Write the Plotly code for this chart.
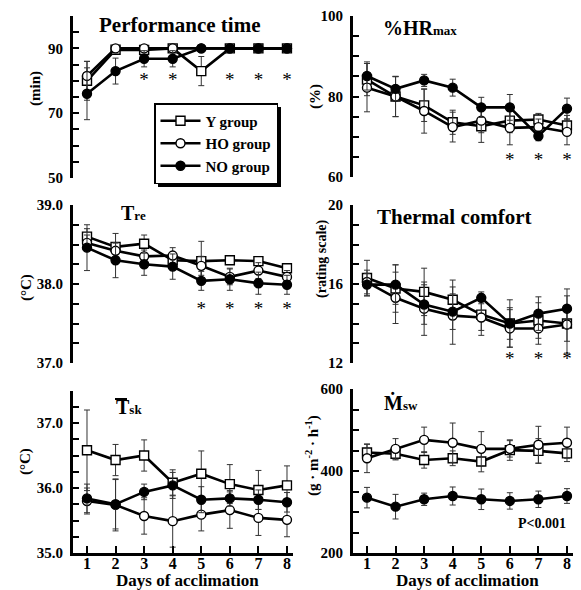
import plotly.graph_objects as go

W, H = 581, 590
FONT = "Liberation Serif, Times New Roman, serif"

days = [1, 2, 3, 4, 5, 6, 7, 8]
group_names = ["Y group", "HO group", "NO group"]

# Performance time (min)
perf_Y = [80, 89.6, 89.5, 90, 83, 90, 90, 90]
perf_HO = [81.5, 90, 90, 90, 90, 90, 90, 90]
perf_NO = [76, 83, 86.8, 86.8, 90, 90, 90, 90]
perf_Y_sd = [6, 0.5, 0.5, 0.3, 4.5, 0, 0, 0]
perf_HO_sd = [4.5, 0, 0, 0, 0, 0, 0, 0]
perf_NO_sd = [8, 4, 2.5, 2.5, 0, 0, 0, 0]
perf_star_days = [3, 4, 6, 7, 8]
perf_star_y = 80

# %HRmax
hr_Y = [84.2, 80, 77.8, 73.6, 72.6, 74, 74.3, 72.8]
hr_HO = [82.2, 80, 76.4, 72.4, 74, 72.2, 72.4, 71.2]
hr_NO = [85.1, 81.9, 84, 82.2, 77.3, 77.3, 70.2, 77]
hr_Y_sd = [4, 5, 4, 3, 4, 3, 1.5, 2.5]
hr_HO_sd = [6, 5, 5.5, 3.7, 3, 4.2, 2, 3.2]
hr_NO_sd = [3.5, 3, 1.5, 2.1, 2.5, 3.2, 1.2, 2.6]
hr_star_days = [6, 7, 8]
hr_star_y = 64

# Tre (deg C)
tre_Y = [38.60, 38.47, 38.51, 38.30, 38.29, 38.30, 38.29, 38.20]
tre_HO = [38.52, 38.42, 38.35, 38.36, 38.23, 38.09, 38.17, 38.09]
tre_NO = [38.46, 38.30, 38.25, 38.22, 38.04, 38.06, 38.01, 37.99]
tre_Y_sd = [0.1, 0.17, 0.11, 0.1, 0.25, 0.05, 0.05, 0.04]
tre_HO_sd = [0.1, 0.1, 0.08, 0.1, 0.12, 0.1, 0.1, 0.08]
tre_NO_sd = [0.29, 0.22, 0.14, 0.16, 0.12, 0.14, 0.14, 0.12]
tre_star_days = [5, 6, 7, 8]
tre_star_y = 37.67

# Thermal comfort (rating scale)
tc_Y = [16.3, 15.77, 15.6, 15.2, 14.45, 14.0, 14.15, 14.0]
tc_HO = [16.1, 15.3, 14.75, 14.4, 14.3, 13.75, 13.75, 13.95]
tc_NO = [15.97, 15.97, 14.96, 14.6, 15.3, 14.0, 14.5, 14.75]
tc_Y_sd = [0.9, 1.2, 1.2, 1.0, 0.8, 1.2, 0.9, 0.9]
tc_HO_sd = [0.6, 1.3, 1.35, 1.45, 0.9, 0.95, 0.8, 1.45]
tc_NO_sd = [0.57, 1.0, 1.0, 0.9, 0.3, 0.8, 0.85, 1.0]
tc_star_days = [6, 7, 8]
tc_star_y = 12.15

# Mean skin temperature (deg C)
tsk_Y = [36.58, 36.43, 36.5, 36.08, 36.22, 36.06, 35.97, 36.04]
tsk_HO = [35.8, 35.74, 35.57, 35.49, 35.59, 35.66, 35.54, 35.51]
tsk_NO = [35.84, 35.75, 35.94, 36.04, 35.82, 35.84, 35.82, 35.78]
tsk_Y_sd = [0.62, 0.24, 0.24, 0.2, 0.35, 0.3, 0.3, 0.3]
tsk_HO_sd = [0.2, 0.4, 0.28, 0.4, 0.25, 0.28, 0.27, 0.26]
tsk_NO_sd = [0.22, 0.38, 0.12, 0.2, 0.2, 0.12, 0.15, 0.15]

# Sweat rate (g m-2 h-1)
msw_Y = [445, 442, 427, 431, 423, 451, 449, 443]
msw_HO = [431, 454, 476, 469, 454, 454, 464, 469]
msw_NO = [335, 313, 331, 339, 331, 327, 331, 339]
msw_Y_sd = [20, 15, 20, 18, 25, 25, 30, 20]
msw_HO_sd = [35, 25, 31, 48, 42, 20, 45, 38]
msw_NO_sd = [25, 30, 15, 22, 25, 20, 20, 18]

# axis ticks
perf_ticks = [50, 55, 60, 65, 70, 75, 80, 85, 90, 95, 100]
perf_labels = ["50", "", "", "", "70", "", "", "", "90", "", ""]
hr_ticks = [60, 65, 70, 75, 80, 85, 90, 95, 100]
hr_labels = ["60", "", "", "", "80", "", "", "", "100"]
tre_ticks = [37.0, 37.25, 37.5, 37.75, 38.0, 38.25, 38.5, 38.75, 39.0]
tre_labels = ["37.0", "", "", "", "38.0", "", "", "", "39.0"]
tc_ticks = [12, 13, 14, 15, 16, 17, 18, 19, 20]
tc_labels = ["12", "", "", "", "16", "", "", "", "20"]
tsk_ticks = [35.0, 35.25, 35.5, 35.75, 36.0, 36.25, 36.5, 36.75, 37.0, 37.25, 37.5]
tsk_labels = ["35.0", "", "", "", "36.0", "", "", "", "37.0", "", ""]
msw_ticks = [200, 250, 300, 350, 400, 450, 500, 550, 600]
msw_labels = ["200", "", "", "", "400", "", "", "", "600"]
day_labels = ["1", "2", "3", "4", "5", "6", "7", "8"]

panels = [
    dict(Y=perf_Y, HO=perf_HO, NO=perf_NO, sd=(perf_Y_sd, perf_HO_sd, perf_NO_sd),
         rng=[50, 100], tv=perf_ticks, tt=perf_labels, stars=(perf_star_days, perf_star_y)),
    dict(Y=hr_Y, HO=hr_HO, NO=hr_NO, sd=(hr_Y_sd, hr_HO_sd, hr_NO_sd),
         rng=[60, 100], tv=hr_ticks, tt=hr_labels, stars=(hr_star_days, hr_star_y)),
    dict(Y=tre_Y, HO=tre_HO, NO=tre_NO, sd=(tre_Y_sd, tre_HO_sd, tre_NO_sd),
         rng=[37, 39], tv=tre_ticks, tt=tre_labels, stars=(tre_star_days, tre_star_y)),
    dict(Y=tc_Y, HO=tc_HO, NO=tc_NO, sd=(tc_Y_sd, tc_HO_sd, tc_NO_sd),
         rng=[12, 20], tv=tc_ticks, tt=tc_labels, stars=(tc_star_days, tc_star_y)),
    dict(Y=tsk_Y, HO=tsk_HO, NO=tsk_NO, sd=(tsk_Y_sd, tsk_HO_sd, tsk_NO_sd),
         rng=[35, 37.5], tv=tsk_ticks, tt=tsk_labels, stars=None),
    dict(Y=msw_Y, HO=msw_HO, NO=msw_NO, sd=(msw_Y_sd, msw_HO_sd, msw_NO_sd),
         rng=[200, 600], tv=msw_ticks, tt=msw_labels, stars=None),
]

# pixel layout (left, right, top, bottom) of each plot area
px_boxes = [
    (72.7, 292.7, 16, 178),
    (352.7, 572.7, 16, 177),
    (72.7, 292.7, 205, 363),
    (352.7, 572.7, 205, 363),
    (72.7, 292.7, 390.5, 553),
    (352.7, 572.7, 389, 553),
]

styles = [
    dict(symbol="square", color="white"),
    dict(symbol="circle", color="white"),
    dict(symbol="circle", color="black"),
]

fig = go.Figure()
layout = {}
for i, (p, box) in enumerate(zip(panels, px_boxes)):
    n = i + 1
    xa = "x" if n == 1 else f"x{n}"
    ya = "y" if n == 1 else f"y{n}"
    for g, key in enumerate(["Y", "HO", "NO"]):
        fig.add_trace(go.Scatter(
            x=days, y=p[key], xaxis=xa, yaxis=ya, mode="lines+markers",
            name=group_names[g], showlegend=(i == 0), legendgroup=key,
            line=dict(color="black", width=2.6),
            marker=dict(symbol=styles[g]["symbol"], size=9, color=styles[g]["color"],
                        line=dict(color="black", width=1.4)),
            error_y=dict(type="data", array=p["sd"][g], visible=True,
                         color="#333333", thickness=1, width=3),
        ))
    if p["stars"]:
        sd_days, sy = p["stars"]
        fig.add_trace(go.Scatter(
            x=sd_days, y=[sy] * len(sd_days), xaxis=xa, yaxis=ya, mode="text",
            text=["*"] * len(sd_days), showlegend=False, hoverinfo="skip",
            textfont=dict(family=FONT, size=19, color="#000000"),
        ))
    l, r, t, b = box
    bottom = i >= 4
    layout["xaxis" if n == 1 else f"xaxis{n}"] = dict(
        domain=[l / W, r / W], range=[0.5, 8.2], anchor=ya,
        showgrid=False, zeroline=False,
        showline=bottom, linecolor="black", linewidth=2.6,
        ticks="inside" if bottom else "", ticklen=7, tickwidth=2, tickcolor="black",
        tickvals=days, ticktext=day_labels, showticklabels=bottom,
        ticklabelstandoff=-6,
        tickfont=dict(family=FONT, size=16, color="black", weight="bold"),
    )
    layout["yaxis" if n == 1 else f"yaxis{n}"] = dict(
        domain=[(H - b) / H, (H - t) / H], range=p["rng"], anchor=xa,
        showgrid=False, zeroline=False,
        showline=True, linecolor="black", linewidth=2.6,
        ticks="inside", ticklen=6, tickwidth=2, tickcolor="black",
        tickvals=p["tv"], ticktext=p["tt"], ticklabelstandoff=4,
        tickfont=dict(family=FONT, size=15, color="black", weight="bold"),
    )


def ann(text, x, y, size, angle=0, xanchor="center", yanchor="middle"):
    return dict(text=text, x=x / W, y=(H - y) / H, xref="paper", yref="paper",
                showarrow=False, textangle=angle, xanchor=xanchor, yanchor=yanchor,
                font=dict(family=FONT, size=size, color="black", weight="bold"))


annotations = [
    ann("Performance time", 180, 25, 21),
    ann("%HR<span style='font-size:13px'>max</span>", 420, 28, 20),
    ann("T<span style='font-size:13px'>re</span>", 119, 213, 20, xanchor="left"),
    ann("Thermal comfort", 454, 217, 21),
    ann("T<span style='font-size:13px'>sk</span>", 114, 407, 20, xanchor="left"),
    ann("Ṁ<span style='font-size:13px'>sw</span>", 382, 402, 20, xanchor="left"),
    ann("(min)", 36, 89, 15, angle=-90),
    ann("(%)", 316, 97, 15, angle=-90),
    ann("(°C)", 26, 288, 15, angle=-90),
    ann("(rating scale)", 322, 259, 14, angle=-90),
    ann("(°C)", 25, 462, 15, angle=-90),
    ann("(g · m<sup>-2</sup> · h<sup>-1</sup>)", 312, 456, 15, angle=-90),
    ann("P<0.001", 542, 523, 14),
    ann("Days of acclimation", 187, 580, 17),
    ann("Days of acclimation", 467, 580, 17),
]

# legend box occupies roughly px (154,103)-(277,183); shadow offset by 4 px
shapes = [
    # overline of mean skin temperature symbol
    dict(type="line", xref="paper", yref="paper", x0=115 / W, x1=127 / W,
         y0=(H - 399) / H, y1=(H - 399) / H, line=dict(color="black", width=2)),
    # legend drop shadow
    dict(type="rect", xref="paper", yref="paper", x0=158 / W, x1=281 / W,
         y0=(H - 187) / H, y1=(H - 107) / H, fillcolor="black",
         line=dict(width=0), layer="above"),
]

fig.update_layout(
    width=W, height=H, margin=dict(l=0, r=0, t=0, b=0, autoexpand=False),
    paper_bgcolor="white", plot_bgcolor="white",
    font=dict(family=FONT, color="black"),
    showlegend=True,
    legend=dict(x=154 / W, y=(H - 103) / H, xanchor="left", yanchor="top",
                bgcolor="white", bordercolor="black", borderwidth=1.5,
                font=dict(family=FONT, size=15, color="black", weight="bold"),
                itemwidth=40, tracegroupgap=0),
    annotations=annotations, shapes=shapes,
    **layout,
)

fig.write_html("out.html", config={"displayModeBar": False},
               post_script="document.body.style.margin='0';")
